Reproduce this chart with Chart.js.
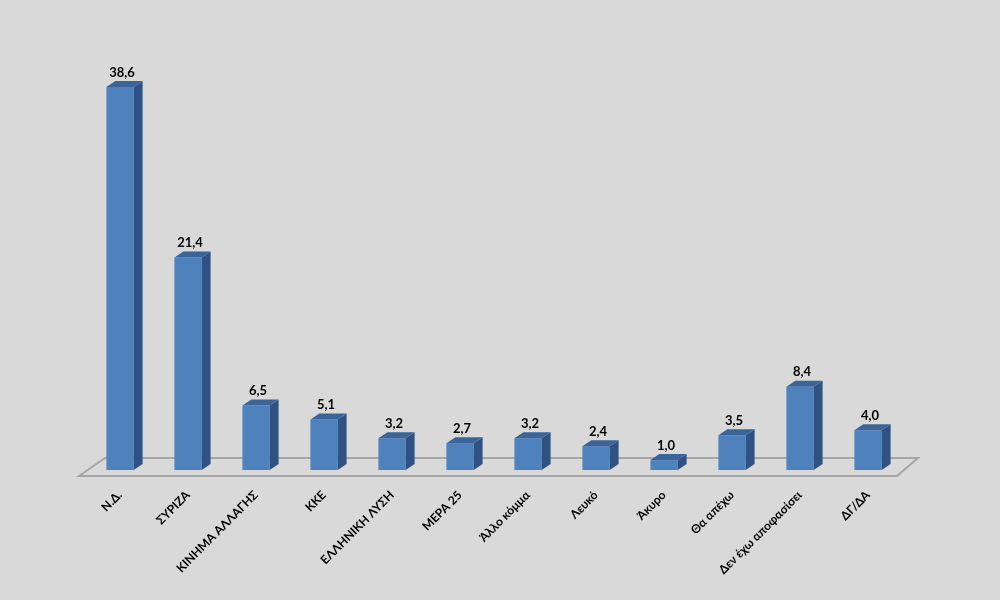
<!DOCTYPE html>
<html>
<head>
<meta charset="utf-8">
<script src="https://cdn.jsdelivr.net/npm/chart.js@4"></script>
<style>
	html, body { margin: 0; padding: 0; background: #d9d9d9; }
	.wrap { width: 1000px; height: 600px; position: relative; }
</style>
</head>
<body>
<div class="wrap">
	<canvas id="myChart"></canvas>
</div>

<script>
	const categories = ['Ν.Δ.', 'ΣΥΡΙΖΑ', 'ΚΙΝΗΜΑ ΑΛΛΑΓΗΣ', 'ΚΚΕ', 'ΕΛΛΗΝΙΚΗ ΛΥΣΗ', 'ΜΕΡΑ 25',
		'Άλλο κόμμα', 'Λευκό', 'Άκυρο', 'Θα απέχω', 'Δεν έχω αποφασίσει', 'ΔΓ/ΔΑ'];
	const values = [38.6, 21.4, 6.5, 5.1, 3.2, 2.7, 3.2, 2.4, 1.0, 3.5, 8.4, 4.0];
	const yMax = 40;

	const depthX = 9, depthY = 6;

	// fake 3d: side + top faces, floor, value labels
	const bar3d = {
		id: 'bar3d',
		beforeDatasetsDraw(chart) {
			const ctx = chart.ctx;
			const a = chart.chartArea;
			const base = chart.scales.y.getPixelForValue(0);
			ctx.save();
			ctx.strokeStyle = '#a6a6a6';
			ctx.lineWidth = 2;
			ctx.beginPath();
			ctx.moveTo(a.left - 7, base + 6);
			ctx.lineTo(a.left + 19, base - 12);
			ctx.lineTo(a.right + 16, base - 12);
			ctx.lineTo(a.right - 5, base + 6);
			ctx.closePath();
			ctx.stroke();
			ctx.restore();
		},
		afterDatasetsDraw(chart) {
			const ctx = chart.ctx;
			const meta = chart.getDatasetMeta(0);
			ctx.save();
			meta.data.forEach((bar, i) => {
				const p = bar.getProps(['x', 'y', 'base', 'width'], true);
				const l = p.x - p.width / 2, r = p.x + p.width / 2;
				ctx.fillStyle = '#2f5282';
				ctx.beginPath();
				ctx.moveTo(r, p.y);
				ctx.lineTo(r + depthX, p.y - depthY);
				ctx.lineTo(r + depthX, p.base - depthY);
				ctx.lineTo(r, p.base);
				ctx.closePath();
				ctx.fill();
				ctx.fillStyle = '#3b6498';
				ctx.beginPath();
				ctx.moveTo(l, p.y);
				ctx.lineTo(l + depthX, p.y - depthY);
				ctx.lineTo(r + depthX, p.y - depthY);
				ctx.lineTo(r, p.y);
				ctx.closePath();
				ctx.fill();

				ctx.fillStyle = '#000';
				ctx.font = 'bold 13px Lato';
				ctx.textAlign = 'center';
				ctx.textBaseline = 'bottom';
				ctx.fillText(values[i].toFixed(1).replace('.', ','), p.x + 2, p.y - depthY - 2);
			});
			ctx.restore();
		}
	};

	const ctx = document.getElementById('myChart').getContext('2d');
	const myChart = new Chart(ctx, {
		type: 'bar',
		data: {
			labels: categories,
			datasets: [{
				data: values,
				backgroundColor: '#4f81bd',
				borderWidth: 0,
				barPercentage: 0.4,
				categoryPercentage: 1.0
			}]
		},
		options: {
			responsive: true,
			maintainAspectRatio: false,
			animation: false,
			layout: {
				padding: { left: 86, right: 98, top: 73, bottom: 0 }
			},
			plugins: {
				legend: { display: false },
				tooltip: { enabled: false }
			},
			scales: {
				x: {
					grid: { display: false },
					border: { display: false },
					ticks: {
						color: '#000',
						font: { family: 'Lato', weight: 'bold', size: 12 },
						maxRotation: 45,
						minRotation: 45,
						padding: 10,
						autoSkip: false
					},
					afterFit(axis) { axis.height = 130; }
				},
				y: {
					display: false,
					min: 0,
					max: yMax
				}
			}
		},
		plugins: [bar3d]
	});
</script>
</body>
</html>
